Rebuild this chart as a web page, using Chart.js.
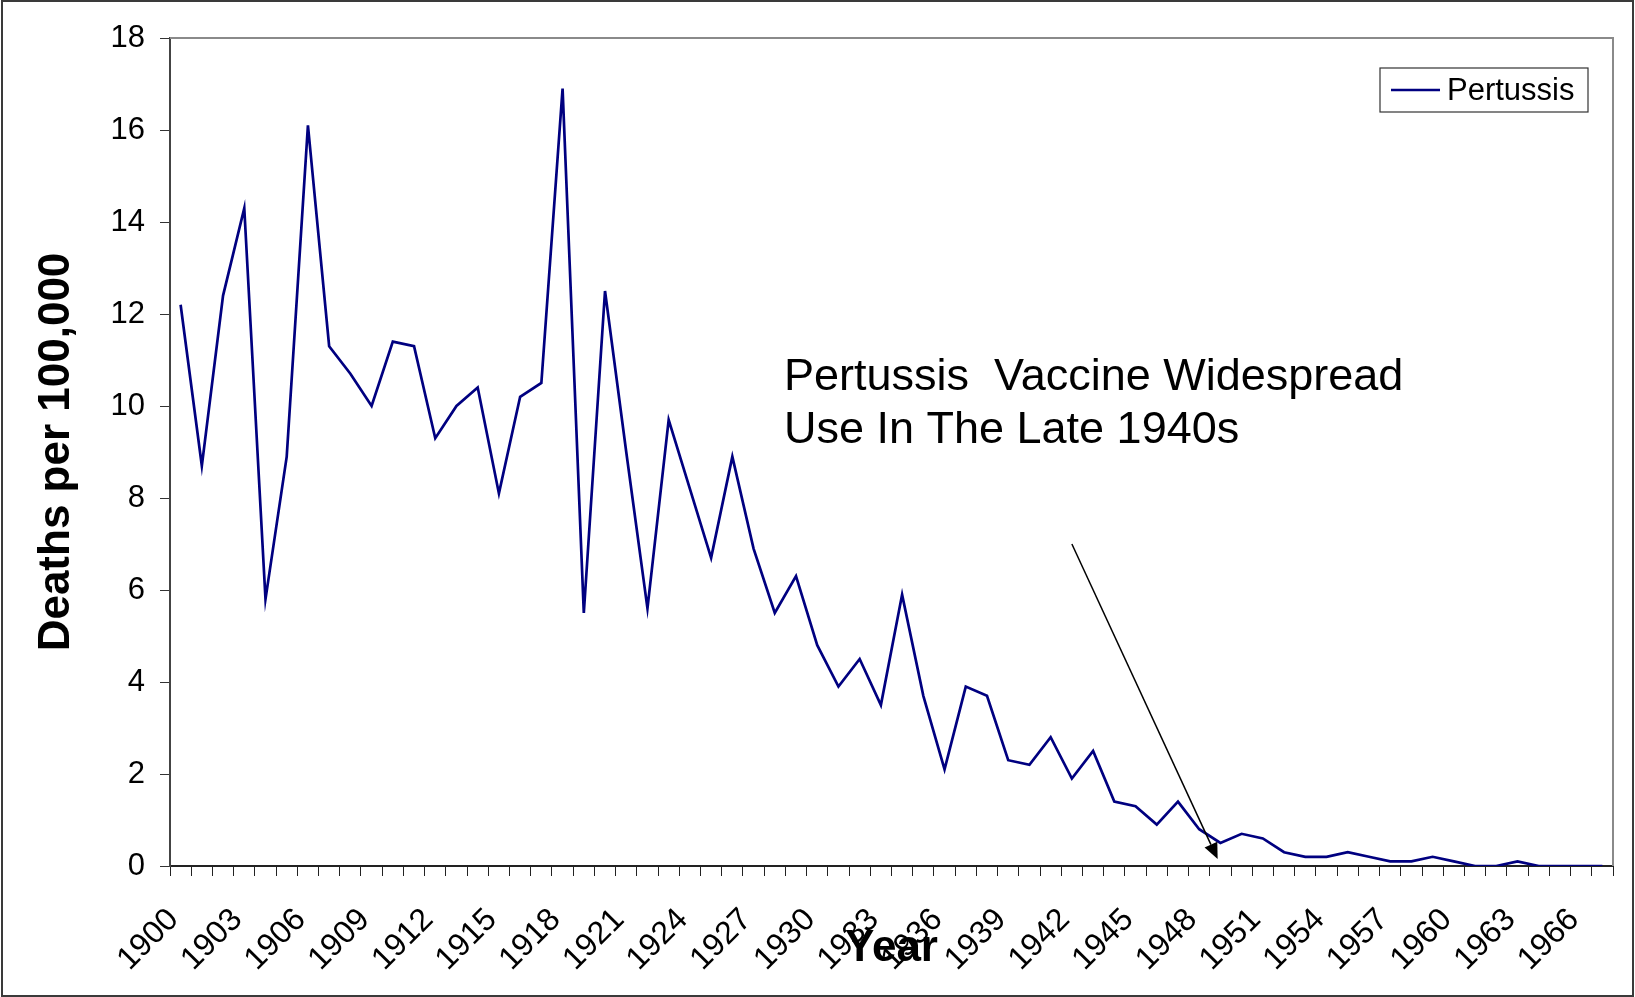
<!DOCTYPE html>
<html>
<head>
<meta charset="utf-8">
<script src="https://cdn.jsdelivr.net/npm/chart.js@4"></script>
<style>
  html, body { margin: 0; padding: 0; background: #fff; }
  canvas { display: block; }
</style>
</head>
<body>
<canvas id="c" width="1635" height="997"></canvas>
<script>
// ---- data ----
const years = ['1900','1901','1902','1903','1904','1905','1906','1907','1908','1909',
               '1910','1911','1912','1913','1914','1915','1916','1917','1918','1919',
               '1920','1921','1922','1923','1924','1925','1926','1927','1928','1929',
               '1930','1931','1932','1933','1934','1935','1936','1937','1938','1939',
               '1940','1941','1942','1943','1944','1945','1946','1947','1948','1949',
               '1950','1951','1952','1953','1954','1955','1956','1957','1958','1959',
               '1960','1961','1962','1963','1964','1965','1966','1967'];
const pertussis = [12.2, 8.7, 12.4, 14.3, 5.8, 8.9, 16.1, 11.3, 10.7, 10.0,
                   11.4, 11.3, 9.3, 10.0, 10.4, 8.1, 10.2, 10.5, 16.9, 5.5,
                   12.5, 9.0, 5.6, 9.7, 8.2, 6.7, 8.9, 6.9, 5.5, 6.3,
                   4.8, 3.9, 4.5, 3.5, 5.9, 3.7, 2.1, 3.9, 3.7, 2.3,
                   2.2, 2.8, 1.9, 2.5, 1.4, 1.3, 0.9, 1.4, 0.8, 0.5,
                   0.7, 0.6, 0.3, 0.2, 0.2, 0.3, 0.2, 0.1, 0.1, 0.2,
                   0.1, 0.0, 0.0, 0.1, 0.0, 0.0, 0.0, 0.0];
const shownYearLabels = ['1900','1903','1906','1909','1912','1915','1918','1921','1924',
                         '1927','1930','1933','1936','1939','1942','1945','1948','1951',
                         '1954','1957','1960','1963','1966'];
const yTicks = [0, 2, 4, 6, 8, 10, 12, 14, 16, 18];
const seriesName = 'Pertussis';
const annotationLines = ['Pertussis  Vaccine Widespread', 'Use In The Late 1940s'];
// annotation anchors in data units (category index, value)
const annotationTextAt = [28.43, 10.35];
const arrowFrom = [42.0, 7.0];
const arrowTo = [48.87, 0.15];

const FONT = "'Liberation Sans', Arial, sans-serif";
const NAVY = '#000080';

const framePlugin = {
  id: 'frame',
  beforeDraw(chart) {
    const ctx = chart.ctx;
    ctx.save();
    ctx.fillStyle = '#fff';
    ctx.fillRect(0, 0, chart.width, chart.height);
    ctx.restore();
  },
  afterDraw(chart) {
    const ctx = chart.ctx;
    const a = chart.chartArea;
    ctx.save();
    ctx.strokeStyle = '#8a8a8a';
    ctx.lineWidth = 2;
    ctx.beginPath();
    ctx.moveTo(a.left, a.top);
    ctx.lineTo(a.right, a.top);
    ctx.lineTo(a.right, a.bottom);
    ctx.stroke();
    ctx.strokeStyle = '#3a3a3a';
    ctx.lineWidth = 2;
    ctx.strokeRect(2, 1, chart.width - 4, chart.height - 2);
    ctx.restore();
  }
};

const annotationPlugin = {
  id: 'annot',
  afterDatasetsDraw(chart) {
    const ctx = chart.ctx;
    const xs = chart.scales.x, ys = chart.scales.y;
    ctx.save();
    ctx.font = '45px ' + FONT;
    ctx.fillStyle = '#000';
    ctx.textAlign = 'left';
    ctx.textBaseline = 'alphabetic';
    const tx = xs.getPixelForValue(annotationTextAt[0]);
    const ty = ys.getPixelForValue(annotationTextAt[1]);
    annotationLines.forEach((l, i) => ctx.fillText(l, tx, ty + i * 53));
    const x1 = xs.getPixelForValue(arrowFrom[0]), y1 = ys.getPixelForValue(arrowFrom[1]);
    const x2 = xs.getPixelForValue(arrowTo[0]), y2 = ys.getPixelForValue(arrowTo[1]);
    const ang = Math.atan2(y2 - y1, x2 - x1);
    const hl = 16, hw = 7;
    const bx = x2 - hl * Math.cos(ang), by = y2 - hl * Math.sin(ang);
    ctx.strokeStyle = '#000';
    ctx.lineWidth = 1.5;
    ctx.beginPath();
    ctx.moveTo(x1, y1);
    ctx.lineTo(bx, by);
    ctx.stroke();
    ctx.fillStyle = '#000';
    ctx.beginPath();
    ctx.moveTo(x2, y2);
    ctx.lineTo(bx + hw * Math.sin(ang), by - hw * Math.cos(ang));
    ctx.lineTo(bx - hw * Math.sin(ang), by + hw * Math.cos(ang));
    ctx.closePath();
    ctx.fill();

    // legend box
    const a = chart.chartArea;
    const ds = chart.data.datasets[0];
    const bw = 208, bh = 44;
    const lx = a.right - 25 - bw, ly = a.top + 30;
    ctx.fillStyle = '#fff';
    ctx.fillRect(lx, ly, bw, bh);
    ctx.strokeStyle = '#333';
    ctx.lineWidth = 1.2;
    ctx.strokeRect(lx, ly, bw, bh);
    ctx.strokeStyle = ds.borderColor;
    ctx.lineWidth = 2.5;
    ctx.beginPath();
    ctx.moveTo(lx + 11, ly + 22);
    ctx.lineTo(lx + 60, ly + 22);
    ctx.stroke();
    ctx.fillStyle = '#000';
    ctx.font = '31px ' + FONT;
    ctx.textBaseline = 'middle';
    ctx.fillText(ds.label, lx + 67, ly + 23);
    ctx.restore();
  }
};

new Chart(document.getElementById('c'), {
  type: 'line',
  data: {
    labels: years,
    datasets: [{
      label: seriesName,
      data: pertussis,
      borderColor: NAVY,
      backgroundColor: NAVY,
      borderWidth: 2.7,
      pointRadius: 0,
      tension: 0,
      fill: false
    }]
  },
  options: {
    responsive: false,
    animation: false,
    devicePixelRatio: 1,
    layout: { padding: { top: 38, right: 22, bottom: 0, left: 0 } },
    plugins: { legend: { display: false }, tooltip: { enabled: false } },
    scales: {
      x: {
        type: 'category',
        offset: true,
        afterFit(scale) {
          scale.height = 131;
          scale.paddingLeft = 0;
          scale.paddingRight = 0;
        },
        grid: {
          offset: true,
          drawOnChartArea: false,
          drawTicks: true,
          tickLength: 10,
          tickColor: '#222',
          lineWidth: 1
        },
        border: { display: true, color: '#222', width: 2 },
        ticks: {
          autoSkip: false,
          maxRotation: 45,
          minRotation: 45,
          padding: 25,
          labelOffset: -7,
          color: '#000',
          font: { family: FONT, size: 32 },
          callback(value) {
            const l = this.getLabelForValue(value);
            return shownYearLabels.includes(l) ? l : '';
          }
        },
        title: {
          display: true,
          text: 'Year',
          color: '#000',
          font: { family: FONT, size: 44, weight: 'bold' },
          padding: { top: 0, bottom: 22 }
        }
      },
      y: {
        min: 0,
        max: 18,
        afterFit(scale) {
          scale.width = 170;
          scale.paddingTop = 0;
          scale.paddingBottom = 0;
        },
        afterBuildTicks(scale) { scale.ticks = yTicks.map(v => ({ value: v })); },
        grid: {
          drawOnChartArea: false,
          drawTicks: true,
          tickLength: 10,
          tickColor: '#333',
          lineWidth: 1
        },
        border: { display: true, color: '#444', width: 2 },
        ticks: {
          padding: 15,
          color: '#000',
          font: { family: FONT, size: 31 }
        },
        title: {
          display: true,
          text: 'Deaths per 100,000',
          color: '#000',
          font: { family: FONT, size: 44, weight: 'bold' },
          padding: { top: 30, bottom: 0 }
        }
      }
    }
  },
  plugins: [framePlugin, annotationPlugin]
});
</script>
</body>
</html>
